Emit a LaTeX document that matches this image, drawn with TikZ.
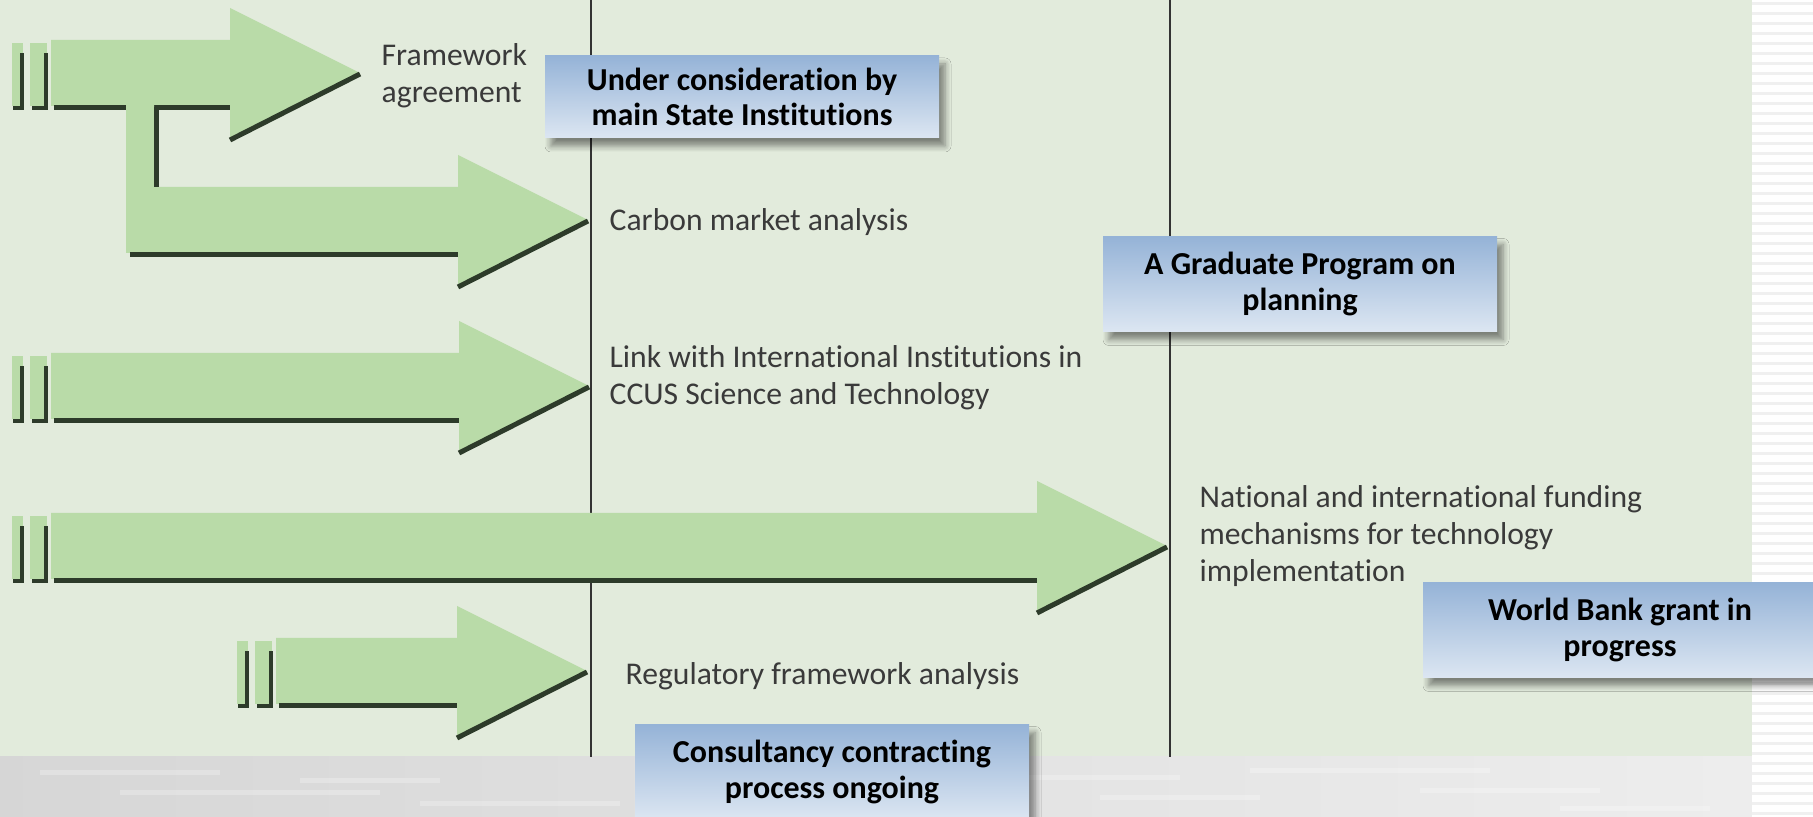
\documentclass[tikz,border=0pt]{standalone}
\usepackage{fontspec}
\setmainfont{Carlito}[Ligatures=NoCommon]
\usetikzlibrary{shadows,shadows.blur}

\definecolor{hintergrund}{HTML}{E2EBDC}
\definecolor{pfeilgruen}{HTML}{B9DBA8}
\definecolor{schattengruen}{HTML}{2D3B2A}
\definecolor{kastenoben}{HTML}{95B3D7}
\definecolor{kastenunten}{HTML}{DCE6F2}
\definecolor{schriftgrau}{HTML}{3A3A3A}

\begin{document}
\begin{tikzpicture}[x=0.1mm, y=-0.1mm,
    pfeil/.style={fill=pfeilgruen},
    schatten/.style={draw=schattengruen, line width=0.5mm},
    linie/.style={draw=black!80, line width=0.15mm},
    schrift/.style={anchor=north west, inner sep=0pt, align=left, text=schriftgrau,
        font=\fontsize{9}{10.5}\selectfont},
    kasten/.style={top color=kastenoben, bottom color=kastenunten, align=center,
        minimum width=39.4mm, minimum height=9.5mm, inner sep=0pt,
        font=\fontsize{9.1}{10}\selectfont\bfseries,
        blur shadow={shadow xshift=0.6mm, shadow yshift=-0.8mm, shadow blur steps=6,
            shadow blur radius=0.6mm, shadow blur extra rounding=0mm, shadow opacity=45}},
]

\useasboundingbox (0,0) rectangle (1813,817);
\clip (0,0) rectangle (1813,817);

% Hintergrund
\fill[hintergrund] (0,0) rectangle (1752,757);
\shade[left color=gray!32, right color=gray!14] (0,757) rectangle (1752,817);
\foreach \sx/\sy/\sl in {40/770/180, 120/790/260, 300/778/140, 420/801/200, 960/775/220,
        1100/795/160, 1250/768/240, 1420/788/180, 1560/806/150}
    \fill[white, opacity=0.25] (\sx,\sy) rectangle (\sx+\sl,\sy+5);
\fill[white] (1752,0) rectangle (1813,817);
\foreach \y in {4,14,...,814}
    \draw[gray!12, line width=0.3mm] (1752,\y) -- (1813,\y);

\draw[linie] (591,0) -- (591,757);
\draw[linie] (1170,0) -- (1170,757);

% Pfeile mit Balken
\foreach \bx/\tx/\cy in {12/360/73, 12/589/386, 12/1167/546, 237/587/671}{
    \fill[pfeil] (\bx,\cy-30) rectangle (\bx+11,\cy+33);
    \fill[pfeil] (\bx+18,\cy-30) rectangle (\bx+35,\cy+33);
    \fill[pfeil] (\bx+39,\cy-33) -- (\tx-130,\cy-33) -- (\tx-130,\cy-65) -- (\tx,\cy)
        -- (\tx-130,\cy+65) -- (\tx-130,\cy+33) -- (\bx+39,\cy+33) -- cycle;
    \draw[schatten, line width=0.35mm] (\bx+10,\cy-20) -- (\bx+10,\cy+35) -- (\bx+1,\cy+35);
    \draw[schatten, line width=0.35mm] (\bx+34,\cy-20) -- (\bx+34,\cy+35) -- (\bx+20,\cy+35);
    \draw[schatten] (\bx+42,\cy+35) -- (\tx-130,\cy+35);
    \draw[schatten] (\tx-130,\cy+67) -- (\tx,\cy+1);
}

% Abzweig zum zweiten Pfeil
\fill[pfeil] (126,103) -- (154,103) -- (154,187) -- (458,187) -- (458,155) -- (588,220)
    -- (458,285) -- (458,253) -- (126,253) -- cycle;
\draw[schatten] (156,107) -- (156,187);
\draw[schatten] (130,255) -- (458,255);
\draw[schatten] (458,287) -- (588,221);

% Beschriftung
\node[schrift] (framework) at (381,43) {Framework\\agreement};
\node[schrift] (carbon) at (609,208) {Carbon market analysis};
\node[schrift] (link) at (609,345) {Link with International Institutions in\\CCUS Science and Technology};
\node[schrift] (funding) at (1199,485) {National and international funding\\mechanisms for technology\\implementation};
\node[schrift] (regulatory) at (625,662) {Regulatory framework analysis};

% Stand
\node[kasten, minimum height=8.2mm] (under) at (742,97) {Under consideration by\\main State Institutions};
\node[kasten] (graduate) at (1300,284) {A Graduate Program on\\planning};
\node[kasten] (worldbank) at (1620,630) {World Bank grant in\\progress};
\node[kasten] (consultancy) at (832,772) {Consultancy contracting\\process ongoing};

\end{tikzpicture}
\end{document}
